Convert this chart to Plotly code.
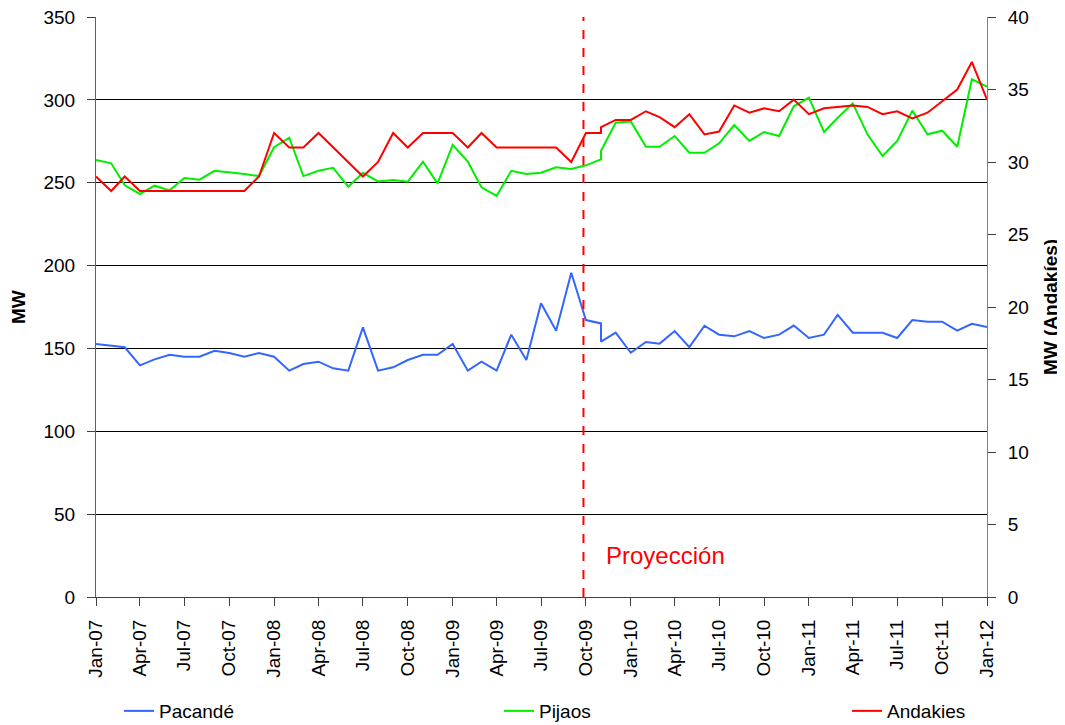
import pandas as pd
import plotly.graph_objects as go

# Monthly dates: historical Jan-07..Nov-09, projection Nov-09..Jan-12
hist_dates = pd.date_range("2007-01-01", "2009-11-01", freq="MS")
proj_dates = pd.date_range("2009-11-01", "2012-01-01", freq="MS")

pacande_hist = [152.7, 151.7, 150.7, 139.8, 143.4, 146.2, 145.0, 145.0, 148.6, 147.2,
                145.0, 147.2, 145.0, 136.6, 140.6, 142.0, 138.0, 136.6, 162.7, 136.6,
                138.6, 143.0, 146.2, 146.2, 152.7, 136.6, 142.0, 136.6, 158.3, 143.0,
                177.2, 160.7, 195.7, 167.1, 165.1]
pacande_proj = [154.1, 159.5, 147.4, 153.9, 152.9, 160.5, 150.8, 163.7, 158.3, 157.3,
                160.5, 156.3, 158.3, 163.8, 156.3, 158.3, 170.3, 159.5, 159.5, 159.5,
                156.3, 167.1, 166.1, 166.1, 160.7, 164.9, 162.9]

pijaos_hist = [263.7, 261.7, 248.4, 243.2, 248.2, 245.4, 252.8, 251.8, 257.2, 256.3,
               255.3, 254.0, 271.4, 277.2, 254.0, 257.2, 259.0, 247.6, 256.0, 250.8,
               251.6, 250.6, 262.7, 249.6, 272.8, 262.7, 247.2, 242.0, 257.2, 255.2,
               256.0, 259.3, 258.3, 260.5, 264.1]
pijaos_proj = [269.3, 286.2, 287.0, 271.7, 271.7, 278.2, 268.1, 268.1, 273.8, 284.8,
               275.2, 280.6, 278.2, 296.1, 301.3, 280.6, 289.2, 297.9, 279.2, 266.1,
               275.2, 293.5, 279.2, 281.4, 271.7, 312.4, 308.0]

andakies_hist = [29, 28, 29, 28, 28, 28, 28, 28, 28, 28, 28, 29, 32, 31, 31, 32, 31, 30,
                 29, 30, 32, 31, 32, 32, 32, 31, 32, 31, 31, 31, 31, 31, 30, 32, 32]
andakies_proj = [32.4, 32.9, 32.9, 33.5, 33.1, 32.4, 33.3, 31.9, 32.1, 33.9, 33.4, 33.7,
                 33.5, 34.3, 33.3, 33.7, 33.8, 33.9, 33.8, 33.3, 33.5, 33.0, 33.4, 34.2,
                 35.0, 36.9, 34.3]

projection_start = "2009-09-26"
left_ticks = list(range(0, 351, 50))
right_ticks = list(range(0, 41, 5))

dates = list(hist_dates) + list(proj_dates)

FONT = "Liberation Sans Narrow, Arial Narrow, Liberation Sans, Arial, sans-serif"

fig = go.Figure()
fig.add_trace(go.Scatter(x=dates, y=pacande_hist + pacande_proj, name="Pacandé",
                         mode="lines", line=dict(color="#3366FF", width=2),
                         legend="legend"))
fig.add_trace(go.Scatter(x=dates, y=pijaos_hist + pijaos_proj, name="Pijaos",
                         mode="lines", line=dict(color="#00EE00", width=2),
                         legend="legend2"))
fig.add_trace(go.Scatter(x=dates, y=andakies_hist + andakies_proj, name="Andakies",
                         mode="lines", line=dict(color="#FF0000", width=2),
                         yaxis="y2", legend="legend3"))

fig.add_shape(type="line", x0=projection_start, x1=projection_start, xref="x",
              y0=0, y1=1, yref="paper", line=dict(color="#FF0000", width=2, dash="dash"))

fig.add_annotation(x="2009-11-08", y=25, xref="x", yref="y", text="Proyección",
                   showarrow=False, xanchor="left", yanchor="middle",
                   font=dict(family="Liberation Sans, Arial, sans-serif", size=24, color="#FF0000"))

fig.add_annotation(x=-0.0875, y=0.5, xref="paper", yref="paper", text="<b>MW</b>",
                   showarrow=False, textangle=-90, xanchor="center", yanchor="middle",
                   font=dict(family=FONT, size=19, color="#000000"))
fig.add_annotation(x=1.0707, y=0.5, xref="paper", yref="paper", text="<b>MW (Andakíes)</b>",
                   showarrow=False, textangle=-90, xanchor="center", yanchor="middle",
                   font=dict(family=FONT, size=19, color="#000000"))

tickfont = dict(family=FONT, size=19, color="#000000")
legfont = dict(family=FONT, size=19, color="#000000")

fig.update_layout(
    width=1057, height=717,
    margin=dict(l=88, r=78, t=9, b=128, autoexpand=False),
    paper_bgcolor="white", plot_bgcolor="white",
    showlegend=True,
    xaxis=dict(type="date", range=["2007-01-01", "2012-01-01"], automargin=False,
               tick0="2007-01-01", dtick="M3", tickformat="%b-%y", tickangle=-90,
               ticks="outside", ticklen=8, tickcolor="#404040", tickwidth=1,
               showline=True, linecolor="#404040", linewidth=1,
               showgrid=False, zeroline=False, tickfont=tickfont,
               ticklabelstandoff=6, ticklabeloverflow="allow"),
    yaxis=dict(range=[0, 350], tickvals=left_ticks, ticks="outside", ticklen=8,
               automargin=False, ticklabeloverflow="allow",
               tickcolor="#404040", showline=True, linecolor="#606060", linewidth=1,
               showgrid=True, gridcolor="#000000", gridwidth=1, zeroline=False,
               tickfont=tickfont, ticklabelstandoff=8),
    yaxis2=dict(range=[0, 40], tickvals=right_ticks, overlaying="y", side="right",
                anchor="x", ticks="outside", ticklen=8, tickcolor="#404040",
                automargin=False, ticklabeloverflow="allow",
                showline=True, linecolor="#808080", linewidth=1, showgrid=False,
                zeroline=False, tickfont=tickfont, ticklabelstandoff=8),
    yaxis3=dict(range=[0, 40], tickvals=right_ticks, overlaying="y", side="right",
                anchor="x", ticks="inside", ticklen=8, tickcolor="#404040",
                automargin=False,
                showticklabels=False, showline=False, showgrid=False, zeroline=False),
    legend=dict(x=0.1050, y=0.0195, xref="container", yref="container",
                xanchor="left", yanchor="middle",
                orientation="h", font=legfont, bgcolor="rgba(0,0,0,0)"),
    legend2=dict(x=0.4645, y=0.0195, xref="container", yref="container",
                 xanchor="left", yanchor="middle",
                 orientation="h", font=legfont, bgcolor="rgba(0,0,0,0)"),
    legend3=dict(x=0.7938, y=0.0195, xref="container", yref="container",
                 xanchor="left", yanchor="middle",
                 orientation="h", font=legfont, bgcolor="rgba(0,0,0,0)"),
)

fig.write_html("out.html")
